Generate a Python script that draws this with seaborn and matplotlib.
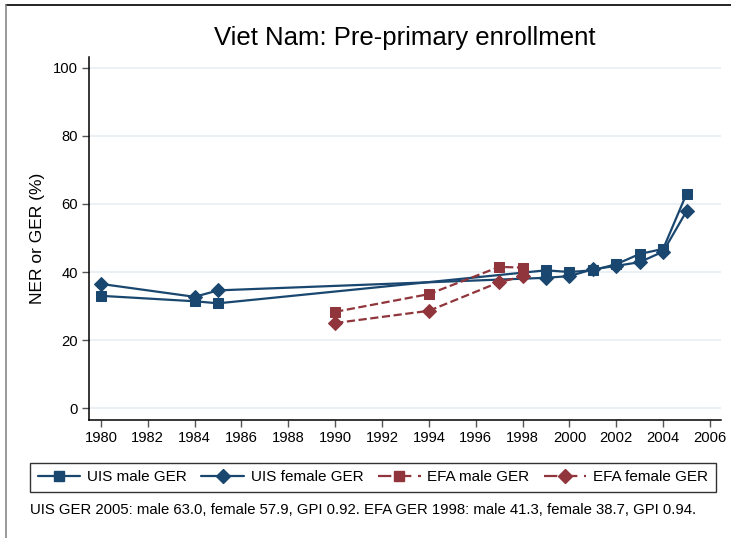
import numpy as np
import pandas as pd
import matplotlib
matplotlib.use("Agg")
import matplotlib.pyplot as plt
import seaborn as sns
from matplotlib.lines import Line2D

sns.set_theme(style="white")
plt.rcParams['font.family'] = ['Liberation Sans', 'DejaVu Sans']
plt.rcParams['text.color'] = 'black'
plt.rcParams['axes.labelcolor'] = 'black'
plt.rcParams['xtick.color'] = 'black'
plt.rcParams['ytick.color'] = 'black'

title = "Viet Nam: Pre-primary enrollment"
ylabel = "NER or GER (%)"
note = "UIS GER 2005: male 63.0, female 57.9, GPI 0.92. EFA GER 1998: male 41.3, female 38.7, GPI 0.94."

uis_years = [1980, 1984, 1985, 1999, 2000, 2001, 2002, 2003, 2004, 2005]
uis_male = [33.0, 31.4, 30.8, 40.5, 40.0, 40.5, 42.3, 45.3, 46.8, 63.0]
uis_female = [36.5, 32.7, 34.6, 38.3, 38.8, 40.8, 41.8, 42.9, 46.0, 57.9]

efa_years = [1990, 1994, 1997, 1998]
efa_male = [28.3, 33.5, 41.5, 41.3]
efa_female = [25.0, 28.6, 37.0, 38.7]

labels = ["UIS male GER", "UIS female GER", "EFA male GER", "EFA female GER"]
xticks = list(range(1980, 2007, 2))
yticks = [0, 20, 40, 60, 80, 100]

navy = "#1a476f"
maroon = "#90353b"

W, H = 731, 538
fig = plt.figure(figsize=(W / 100, H / 100), dpi=100)
ax = fig.add_axes([89 / W, 1 - 420 / H, (721 - 89) / W, (420 - 57) / H])

series = [
    (uis_years, uis_male, navy, "s", "-", labels[0], 7),
    (uis_years, uis_female, navy, "D", "-", labels[1], 7.5),
    (efa_years, efa_male, maroon, "s", "--", labels[2], 7),
    (efa_years, efa_female, maroon, "D", "--", labels[3], 7.5),
]
handles = []
for xs, ys, col, mk, ls, lab, ms in series:
    df = pd.DataFrame({"year": xs, "value": ys})
    sns.lineplot(data=df, x="year", y="value", ax=ax, color=col, marker=mk,
                 markersize=ms, markeredgecolor=col, linewidth=1.6,
                 linestyle=ls, dashes=(ls == "--") and (6, 3) or "", zorder=3)
    h = Line2D([0], [0], color=col, marker=mk, markersize=ms, markeredgecolor=col,
               linewidth=1.6, linestyle=ls)
    if ls == "--":
        h.set_dashes((6, 3))
    handles.append(h)

ax.set_xlim(1979.49, 2006.47)
ax.set_ylim(-3.5, 103.2)
ax.set_xticks(xticks)
ax.set_xticklabels([str(t) for t in xticks], fontsize=10.6)
ax.set_yticks(yticks)
ax.set_yticklabels([str(t) for t in yticks], fontsize=10.6)
ax.set_xlabel("")
ax.set_ylabel(ylabel, fontsize=12.5, labelpad=6)
ax.grid(axis="y", color="#e6eef1", linewidth=1.2)
ax.set_axisbelow(True)
for s in ["top", "right"]:
    ax.spines[s].set_visible(False)
for s in ["left", "bottom"]:
    ax.spines[s].set_color("black")
    ax.spines[s].set_linewidth(1.1)
ax.tick_params(axis="both", direction="out", length=5, width=1, color="#555555",
               left=True, bottom=True, pad=3, labelcolor="black")

fig.text(405 / W, 1 - 38 / H, title, ha="center", va="center", fontsize=18.5,
         color="black")

leg = fig.legend(handles=handles, labels=labels, loc="lower left",
                 bbox_to_anchor=(30 / W, 1 - 492 / H, (716 - 30) / W, 34 / H),
                 mode="expand", ncol=4, fontsize=11, frameon=True, fancybox=False,
                 edgecolor="black", handlelength=2.8, handletextpad=0.45,
                 borderaxespad=0, borderpad=0.5)
leg.get_frame().set_linewidth(1.0)
for t in leg.get_texts():
    t.set_color("black")

fig.text(30 / W, 1 - 510 / H, note, ha="left", va="center", fontsize=10.7,
         color="black")

# outer frame remnants
fig.add_artist(Line2D([6 / W, 1], [1 - 5 / H, 1 - 5 / H], color="black", linewidth=1.2))
fig.add_artist(Line2D([6 / W, 6 / W], [0, 1 - 5 / H], color="#888888", linewidth=1.2))

fig.savefig("out.png", dpi=100)
